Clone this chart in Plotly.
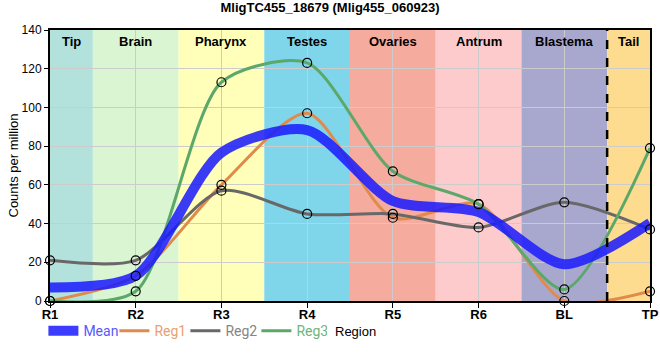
import plotly.graph_objects as go

regions = ["R1", "R2", "R3", "R4", "R5", "R6", "BL", "TP"]
reg1 = [0, 13, 60, 97, 43, 50, 0, 5]
reg2 = [21, 21, 57, 45, 45, 38, 51, 37]
reg3 = [0, 5, 113, 123, 67, 50, 6, 79]
mean = [round((a + b + c) / 3, 2) for a, b, c in zip(reg1, reg2, reg3)]

tissue_names = ["Tip", "Brain", "Pharynx", "Testes", "Ovaries", "Antrum", "Blastema", "Tail"]
tissue_start = [0, 0.5, 1.5, 2.5, 3.5, 4.5, 5.5, 6.5]
tissue_end = [0.5, 1.5, 2.5, 3.5, 4.5, 5.5, 6.5, 7]
tissue_colors = ["#b3e2dd", "#d9f5d2", "#ffffb9", "#7fd5ea", "#f5ab9e", "#fdcbcb", "#a8a8cf", "#fedc8f"]

series = [
    ("Reg1", reg1, "#e08a4c", "#e9a070"),
    ("Reg2", reg2, "#686868", "#858585"),
    ("Reg3", reg3, "#5ba86a", "#6db57d"),
]
SMOOTH = 0.75

fig = go.Figure()

for name, vals, col, tcol in series:
    fig.add_trace(go.Scatter(
        x=regions, y=vals, mode="lines",
        line=dict(color=col, width=3, shape="spline", smoothing=SMOOTH),
        name=f"<span style='color:{tcol}'>{name}</span>",
        legendrank=2,
    ))

fig.add_trace(go.Scatter(
    x=regions, y=mean, mode="lines",
    line=dict(color="#1a1aff", width=10, shape="spline", smoothing=SMOOTH),
    opacity=0.85,
    name="<span style='color:#5858ff'>Mean</span>",
    legendrank=1,
))

for name, vals, col, tcol in series:
    fig.add_trace(go.Scatter(
        x=regions, y=vals, mode="markers",
        marker=dict(symbol="circle", size=9, color="rgba(0,0,0,0)",
                    line=dict(color="black", width=1.2)),
        showlegend=False, cliponaxis=False,
    ))

shapes = []
for s, e, c in zip(tissue_start, tissue_end, tissue_colors):
    shapes.append(dict(type="rect", xref="x", yref="y", x0=s, x1=e, y0=0, y1=140,
                       fillcolor=c, line=dict(width=0), layer="below"))
shapes.append(dict(type="line", xref="x", yref="y", x0=6.5, x1=6.5, y0=0, y1=140,
                   line=dict(color="black", width=2.5, dash="dash")))

annotations = []
for n, s, e in zip(tissue_names, tissue_start, tissue_end):
    annotations.append(dict(x=(s + e) / 2, y=140, xref="x", yref="y", text=f"<b>{n}</b>",
                            showarrow=False, yanchor="top", yshift=-2,
                            font=dict(size=13, color="black", family="Arial")))
annotations.append(dict(xref="paper", yref="paper", x=(333 - 50) / 600, y=-(331 - 301) / 271,
                        text="Region", showarrow=False, xanchor="left", yanchor="middle",
                        font=dict(size=13, color="black", family="Arial")))
annotations.append(dict(xref="paper", yref="paper", x=-(50 - 13) / 600, y=0.5,
                        text="Counts per million", showarrow=False, textangle=-90,
                        xanchor="center", yanchor="middle",
                        font=dict(size=13, color="black", family="Arial")))

fig.update_layout(
    width=660, height=360,
    margin=dict(l=50, r=10, t=30, b=59, autoexpand=False),
    paper_bgcolor="white", plot_bgcolor="white",
    title=dict(text="<b>MligTC455_18679 (Mlig455_060923)</b>", x=0.5, xanchor="center",
               y=0.993, yanchor="top", font=dict(size=13, color="black", family="Arial")),
    font=dict(family="Arial", size=12, color="black"),
    shapes=shapes, annotations=annotations,
    showlegend=True,
    legend=dict(orientation="h", x=-0.011, y=-0.052, xanchor="left", yanchor="top",
                font=dict(size=14, family="Roboto"), itemwidth=30, entrywidth=26,
                bgcolor="rgba(0,0,0,0)", tracegroupgap=0),
)
fig.update_xaxes(
    type="category", range=[0, 7], showgrid=True, gridcolor="#cccccc", gridwidth=1,
    showline=True, linecolor="black", linewidth=2, mirror=True,
    ticks="outside", ticklen=5, tickcolor="black",
    tickfont=dict(size=13, family="Arial", color="black"),
    tickprefix="<b>", ticksuffix="</b>", automargin=False,
    ticklabelstandoff=-5,
)
fig.update_yaxes(
    range=[0, 140], dtick=20, showgrid=True, gridcolor="#cccccc", gridwidth=1,
    showline=True, linecolor="black", linewidth=2, mirror=True,
    ticks="outside", ticklen=4, tickcolor="black",
    tickfont=dict(size=12, family="Arial", color="black"),
    zeroline=False, automargin=False,
)

fig.write_html("out.html", config={"displayModeBar": False},
               post_script="document.body.style.margin='0';")
